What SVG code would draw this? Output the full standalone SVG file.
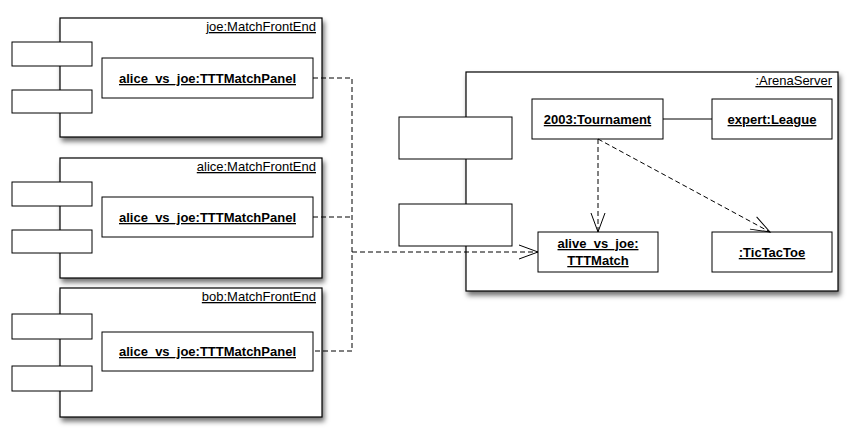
<svg xmlns="http://www.w3.org/2000/svg" width="861" height="445" viewBox="0 0 861 445">
<defs>
<filter id="sh" x="-10%" y="-10%" width="125%" height="130%">
<feDropShadow dx="2" dy="4" stdDeviation="2.5" flood-color="#000" flood-opacity="0.55"/>
</filter>
<marker id="open" markerWidth="22" markerHeight="16" refX="20" refY="8" orient="auto" markerUnits="userSpaceOnUse">
<path d="M1,1 L20,8 L1,15" fill="none" stroke="#000" stroke-width="1"/>
</marker>
<style>
.outer{fill:#fff;stroke:#000;stroke-width:1.2;filter:url(#sh)}
.box{fill:#fff;stroke:#000;stroke-width:1}
.name{font-family:"Liberation Sans",Arial,sans-serif;font-size:13px;text-decoration:underline;fill:#000}
.lbl{font-family:"Liberation Sans",Arial,sans-serif;font-size:13px;font-weight:bold;text-decoration:underline;fill:#000;text-anchor:middle}
.dash{fill:none;stroke:#000;stroke-width:1;stroke-dasharray:5,3}
.solid{fill:none;stroke:#000;stroke-width:1}
</style>
</defs>
<rect width="861" height="445" fill="#fff"/>

<g id="joe">
<rect class="outer" x="60" y="18" width="262" height="119"/>
<rect class="box" x="12" y="42" width="80" height="24"/>
<rect class="box" x="12" y="90" width="80" height="23"/>
<text class="name" x="316" y="31" text-anchor="end">joe:MatchFrontEnd</text>
<rect class="box" x="102" y="58" width="211" height="40"/>
<text class="lbl" x="207.5" y="83">alice_vs_joe:TTTMatchPanel</text>
</g>

<g id="alice">
<rect class="outer" x="60" y="158" width="262" height="120"/>
<rect class="box" x="12" y="182" width="80" height="24"/>
<rect class="box" x="12" y="230" width="80" height="23"/>
<text class="name" x="316" y="171" text-anchor="end">alice:MatchFrontEnd</text>
<rect class="box" x="102" y="197" width="211" height="40"/>
<text class="lbl" x="207.5" y="222">alice_vs_joe:TTTMatchPanel</text>
</g>

<g id="bob">
<rect class="outer" x="60" y="288" width="262" height="129"/>
<rect class="box" x="12" y="314" width="80" height="25"/>
<rect class="box" x="12" y="366" width="80" height="25"/>
<text class="name" x="316" y="301" text-anchor="end">bob:MatchFrontEnd</text>
<rect class="box" x="102" y="332" width="211" height="39"/>
<text class="lbl" x="207.5" y="356">alice_vs_joe:TTTMatchPanel</text>
</g>

<g id="arenaserver">
<rect class="outer" x="466" y="72" width="372" height="219"/>
<rect class="box" x="399" y="117" width="113" height="42"/>
<rect class="box" x="399" y="204" width="113" height="42"/>
<text class="name" x="832" y="85" text-anchor="end">:ArenaServer</text>
</g>

<g id="tournament">
<rect class="box" x="532" y="99" width="131" height="40"/>
<text class="lbl" x="597.5" y="124">2003:Tournament</text>
</g>
<g id="league">
<rect class="box" x="712" y="99" width="120" height="40"/>
<text class="lbl" x="772" y="124">expert:League</text>
</g>
<g id="tttmatch">
<rect class="box" x="538" y="232" width="120" height="40"/>
<text class="lbl" x="598" y="248">alive_vs_joe:</text>
<text class="lbl" x="598" y="265">TTTMatch</text>
</g>
<g id="tictactoe">
<rect class="box" x="712" y="232" width="120" height="40"/>
<text class="lbl" x="772" y="257">:TicTacToe</text>
</g>

<g id="connectors">
<path class="dash" d="M313,78 H352 V351 H313"/>
<path class="dash" d="M313,217 H352"/>
<path class="dash" d="M352,252 H538" marker-end="url(#open)"/>
<path class="solid" d="M663,119 H712"/>
<path class="dash" d="M598,139 V232" marker-end="url(#open)"/>
<path class="dash" d="M598,139 L770,232" marker-end="url(#open)"/>
</g>
</svg>
